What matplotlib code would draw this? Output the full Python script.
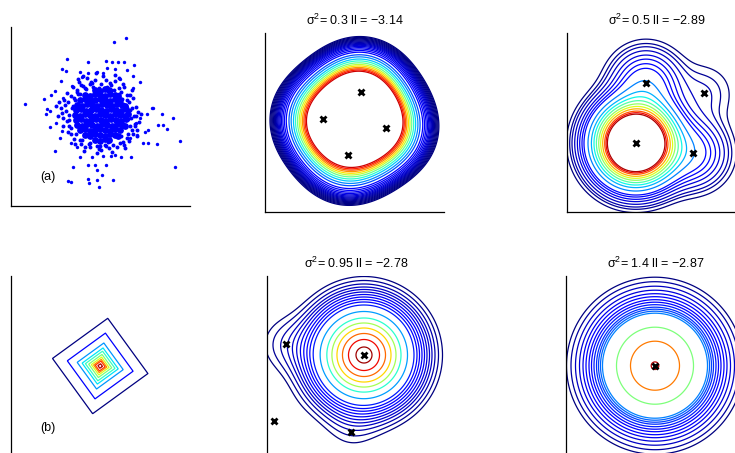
import numpy as np
import matplotlib
matplotlib.use('Agg')
import matplotlib.pyplot as plt

plt.rcParams['font.family'] = ['Liberation Sans', 'DejaVu Sans']
plt.rcParams['mathtext.default'] = 'regular'

# ---- panel (a): scatter of samples (axis units 0..179) ----
outer_x = [114.7, 102.7, 56, 77.3, 95, 101.3, 107.3, 112.7, 123.3, 50.7, 55, 69, 96.3, 103.7,
           115.7, 122.3, 49.7, 129, 70.7, 77.3, 85.7, 92.3, 109, 60.7, 44, 32.7, 13.7, 39.7,
           52.3, 122.3, 118.3, 140.7, 142.3, 35.7, 35, 39, 151, 161.7, 135.7, 129, 125, 39,
           45, 50.7, 147.3, 152.3, 156.3, 137, 134, 125.7, 119, 132.3, 137, 146.3, 169.3, 49,
           60, 65.7, 43.7, 69, 80.7, 92.3, 100, 104, 109.7, 120, 62.3, 76.7, 84, 95, 164,
           57.3, 59.7, 77.3, 85.7, 102.3, 77.7, 88.3, 85.7, 90.7]
outer_y = [167.7, 164.3, 146.7, 143.7, 145.3, 144.3, 143.7, 144.3, 140.7, 137, 135, 134, 137.7, 137.3,
           136, 130, 124.7, 123.7, 128.7, 132.7, 134.3, 132.7, 126.7, 120, 115.3, 107, 102, 111.3,
           107.7, 117.7, 111, 98.3, 97.7, 97, 92, 94.7, 91.7, 88.3, 91.7, 87.7, 82.7, 79.3,
           82.7, 75.3, 80.7, 81, 77.3, 76, 74.3, 71, 67.7, 62.7, 63.3, 62, 65, 68.3,
           62.7, 58.7, 55, 49.3, 49.3, 50, 50, 51, 49.3, 49.3, 39.3, 41.3, 40.7, 41.3, 39.3,
           25, 24, 26.7, 26, 26, 22.7, 18.7, 36, 30.7]
halo_x = [55, 52, 58, 57, 60, 66, 72, 79, 90, 100, 108, 116, 118, 119, 120, 119, 117, 112, 106,
          98, 88, 79, 70, 63, 57, 50, 53, 62, 68, 84, 95, 104, 112, 122, 125, 125, 124, 122,
          114, 101, 86, 73, 64, 52, 47, 56, 76, 108, 121, 128, 118, 95, 79, 58, 115, 60, 110,
          67, 108, 89, 62, 117, 74, 100, 92, 45, 130, 126, 85, 69,
          58, 61, 64, 69, 75, 82, 88, 96, 103, 110, 116, 121, 123, 124, 121, 116, 109, 102,
          94, 86, 78, 71, 65, 60, 56, 54, 66, 63, 70, 81, 99, 113, 119, 127, 113, 90, 74, 51,
          48, 67, 72, 104, 126, 111, 80, 97]
halo_y = [95, 88, 80, 104, 110, 116, 120, 122, 122, 121, 118, 111, 104, 96, 88, 80, 72, 64, 59,
          58, 57, 59, 62, 67, 74, 98, 106, 119, 124, 126, 126, 125, 122, 108, 99, 90, 82, 72,
          58, 54, 53, 55, 62, 80, 90, 113, 128, 128, 116, 84, 65, 60, 63, 86, 100, 72, 70,
          112, 112, 60, 100, 87, 118, 116, 130, 100, 92, 76, 133, 66,
          91, 98, 106, 112, 117, 119, 118, 119, 116, 114, 106, 98, 90, 80, 76, 68, 63, 61,
          61, 60, 62, 66, 72, 78, 85, 101, 114, 108, 121, 123, 123, 119, 111, 94, 61, 56, 59, 93,
          104, 127, 130, 131, 70, 107, 124, 64]
core_x = [84, 89, 94, 98,
          74, 79, 84, 89, 94, 99, 104, 107,
          69, 74, 79, 84, 89, 94, 99, 104, 109,
          66, 71, 76, 81, 86, 91, 96, 101, 106, 111, 114,
          65, 70, 75, 80, 85, 90, 95, 100, 105, 110, 115,
          64, 69, 74, 79, 84, 89, 94, 99, 104, 109, 114, 117,
          65, 70, 75, 80, 85, 90, 95, 100, 105, 110, 115,
          66, 71, 76, 81, 86, 91, 96, 101, 106, 111, 114,
          69, 74, 79, 84, 89, 94, 99, 104, 109,
          74, 79, 84, 89, 94, 99, 104, 107,
          84, 89, 94, 98]
core_y = [66, 65, 67, 66,
          71, 70, 72, 71, 70, 72, 71, 70,
          76, 77, 75, 76, 77, 76, 75, 77, 76,
          81, 80, 82, 81, 80, 82, 81, 80, 82, 81, 80,
          86, 87, 85, 86, 87, 86, 85, 87, 86, 85, 87,
          91, 90, 92, 91, 90, 92, 91, 90, 92, 91, 90, 92,
          96, 97, 95, 96, 97, 96, 95, 97, 96, 95, 97,
          101, 100, 102, 101, 100, 102, 101, 100, 102, 101, 100,
          106, 107, 105, 106, 107, 106, 105, 107, 106,
          111, 110, 112, 111, 110, 112, 111, 110,
          116, 115, 117, 116]

# ---- panel (b): Laplacian density, diamond contours ----
b_centre = (89.2, 89.0)
b_angle = -9.0
b_sizes = [48.3, 33.3, 23.3, 18.3, 15.0, 11.7, 9.0, 6.7, 5.0, 2.3]
b_cols = [0.0, 0.12, 0.27, 0.35, 0.42, 0.5, 0.62, 0.75, 0.85, 0.95]

# ---- fitted mixtures ----
sig2 = ['0.3', '0.5', '0.95', '1.4']
ll = ['3.14', '2.89', '2.78', '2.87']

f1_cx = [95.7, 57.7, 121.0, 82.7]
f1_cy = [120.3, 93.0, 83.7, 57.0]
f1_w = [1.2, 1, 1, 0.85]
f1_s = [29, 29, 29, 29]
f1_origin = (88.5, 92.5)
f1_dir = -1
f1_r = [83.5, 82.6, 81.7, 80.8, 79.9, 79.0, 78.1, 77.2, 76.3, 75.4, 74.4, 73.3, 72.0,
        70.6, 69.0, 67.2,
        64.5, 62.3, 60.0, 58.0, 56.0, 54.2, 52.6, 51.0, 49.6, 48.3, 47.0]
f1_c = [0.0, 0.0, 0.0, 0.01, 0.01, 0.02, 0.03, 0.04, 0.05, 0.06, 0.07, 0.08, 0.09,
        0.1, 0.11, 0.12,
        0.2, 0.26, 0.32, 0.4, 0.48, 0.58, 0.67, 0.75, 0.82, 0.88, 0.93]

f2_cx = [68.7, 79.0, 126.3, 137.0]
f2_cy = [68.7, 128.7, 58.7, 118.7]
f2_w = [1, 0.08, 0.07, 0.015]
f2_s = [22, 20, 20, 20]
f2_origin = (68.7, 68.7)
f2_dir = -1
f2_r = [69.3, 66.0, 63.7, 61.0, 58.3, 56.0, 53.7, 51.7,
        47.7, 44.3, 41.7, 39.3, 37.0, 35.0, 33.0, 31.0, 29.6, 28.3]
f2_c = [0.0, 0.02, 0.04, 0.06, 0.08, 0.1, 0.11, 0.13,
        0.25, 0.3, 0.37, 0.45, 0.53, 0.62, 0.72, 0.82, 0.9, 0.96]

f3_cx = [97.0, 19.0, 7.0, 84.0]
f3_cy = [100.0, 111.0, 34.0, 23.3]
f3_w = [1, 0.03, 0.01, 0.015]
f3_s = [28, 20, 20, 20]
f3_origin = (97.0, 100.0)
f3_dir = 1
f3_r = [78.5, 74.5, 71.0, 68.0, 65.5, 63.0, 60.5, 58.0, 55.5, 53.0, 50.0,
        43.5, 37.0, 32.0, 27.0, 21.5, 15.5, 8.0]
f3_c = [0.0, 0.02, 0.04, 0.06, 0.07, 0.08, 0.1, 0.11, 0.12, 0.13, 0.15,
        0.28, 0.4, 0.55, 0.68, 0.8, 0.9, 0.97]

f4_cx = [89.0]
f4_cy = [89.3]
f4_w = [1]
f4_s = [30]
f4_origin = (89.0, 89.3)
f4_dir = -1
f4_r = [88.5, 84.0, 79.5, 75.5, 72.0, 69.0, 66.0, 63.5, 61.0, 58.5, 56.5, 54.5, 52.5,
        38.5, 24.5, 3.8]
f4_c = [0.0, 0.03, 0.06, 0.08, 0.1, 0.11, 0.12, 0.13, 0.15, 0.17, 0.19, 0.22, 0.25,
        0.5, 0.78, 0.95]

W, H = 735.0, 453.0


def make_axes(fig, x0, ytop):
    ax = fig.add_axes([x0 / W, (H - ytop - 179) / H, 179 / W, 179 / H])
    ax.set_xlim(0, 179)
    ax.set_ylim(0, 179)
    ax.set_xticks([])
    ax.set_yticks([])
    for sp in ['top', 'right']:
        ax.spines[sp].set_visible(False)
    for sp in ['left', 'bottom']:
        ax.spines[sp].set_linewidth(0.9)
    return ax


def logmix(X, Y, cx, cy, w, s):
    Z = np.zeros_like(np.asarray(X, dtype=float))
    for i in range(len(cx)):
        Z = Z + w[i] * np.exp(-((X - cx[i]) ** 2 + (Y - cy[i]) ** 2) / (2.0 * s[i] ** 2))
    return np.log(Z + 1e-300)


def draw_fit(ax, cx, cy, w, s, origin, direction, radii, cvals, title):
    g = np.linspace(-5, 185, 500)
    X, Y = np.meshgrid(g, g)
    Z = logmix(X, Y, cx, cy, w, s)
    # contour levels = field value where each ring crosses a horizontal ray from origin
    rx = origin[0] + direction * np.array(radii)
    ry = np.full(len(radii), origin[1])
    lv = logmix(rx, ry, cx, cy, w, s)
    order = np.argsort(lv)
    cols = [plt.cm.jet(cvals[i]) for i in order]
    ax.contour(X, Y, Z, levels=lv[order], colors=cols, linewidths=0.9)
    ax.plot(cx, cy, 'kx', ms=4.5, mew=2)
    ax.set_title(title, fontsize=9, pad=6)


fig = plt.figure(figsize=(7.35, 4.53), dpi=100)

# (a)
ax = make_axes(fig, 11, 27)
ax.scatter(core_x, core_y, s=24, c='b', linewidths=0)
ax.scatter(halo_x, halo_y, s=8, c='b', linewidths=0)
ax.scatter(outer_x, outer_y, s=6, c='b', linewidths=0)
ax.text(36.7, 29.3, '(a)', fontsize=9, ha='center', va='center')

# (b)
ax = make_axes(fig, 11, 276)
g = np.linspace(-5, 185, 500)
X, Y = np.meshgrid(g, g)
a = np.deg2rad(b_angle)
dx = X - b_centre[0]
dy = Y - b_centre[1]
u = dx * np.cos(a) + dy * np.sin(a)
v = -dx * np.sin(a) + dy * np.cos(a)
Zb = -(np.abs(u) + np.abs(v))
lvb = -np.array(b_sizes)
ax.contour(X, Y, Zb, levels=lvb, colors=[plt.cm.jet(c) for c in b_cols], linewidths=0.9)
ax.text(36.7, 27.0, '(b)', fontsize=9, ha='center', va='center')

titles = ['σ$^2$= %s ll = \u2212%s' % (sig2[i], ll[i]) for i in range(4)]

ax = make_axes(fig, 265, 33)
draw_fit(ax, f1_cx, f1_cy, f1_w, f1_s, f1_origin, f1_dir, f1_r, f1_c, titles[0])
ax = make_axes(fig, 567, 33)
draw_fit(ax, f2_cx, f2_cy, f2_w, f2_s, f2_origin, f2_dir, f2_r, f2_c, titles[1])
ax = make_axes(fig, 267, 276)
draw_fit(ax, f3_cx, f3_cy, f3_w, f3_s, f3_origin, f3_dir, f3_r, f3_c, titles[2])
ax = make_axes(fig, 566, 276)
draw_fit(ax, f4_cx, f4_cy, f4_w, f4_s, f4_origin, f4_dir, f4_r, f4_c, titles[3])

fig.savefig('out.png', dpi=100)
